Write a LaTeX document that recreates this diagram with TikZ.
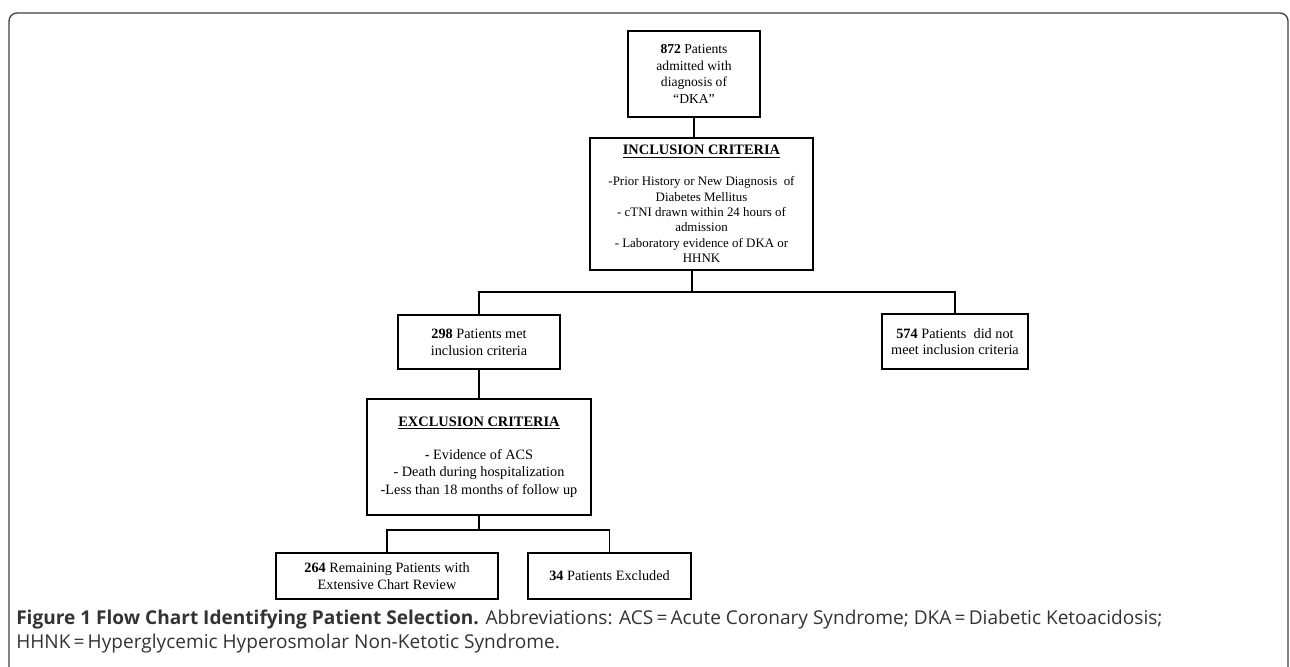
\documentclass[tikz,border=0pt]{standalone}
\usepackage{fontspec}
\setmainfont{Liberation Serif}
\newfontfamily\capfont{Open Sans}
\usetikzlibrary{positioning}
\newcommand{\critlabel}[1]{{\fontsize{10.8}{12}\selectfont\bfseries\underline{#1}}}

\begin{document}
\begin{tikzpicture}[x=0.75pt, y=-0.75pt,
  box/.style={draw, line width=2pt, align=center, inner sep=2pt, font=\fontsize{10.7}{12.5}\selectfont},
  link/.style={line width=1.4pt},
  caption/.style={anchor=base west, inner sep=0pt, text=black!80, font=\capfont\fontsize{14.3}{16}\selectfont}]
\useasboundingbox (0,0) rectangle (1290,667);
% outer frame, open at the bottom
\draw[black!75, line width=1pt, rounded corners=6pt] (9,690) -- (9,13) -- (1288,13) -- (1288,690);

\node[box, font=\fontsize{10.2}{12.5}\selectfont, minimum width=99pt, minimum height=64.5pt] (admitted) at (694,74) {\textbf{872} Patients\\admitted with\\diagnosis of\\``DKA''};
\node[box, font=\fontsize{9.7}{11.5}\selectfont, minimum width=167.25pt, minimum height=99pt] (inclusion) at (701.5,204) {\critlabel{INCLUSION CRITERIA}\\[11.75pt]-Prior History or New Diagnosis\ \ of\\Diabetes Mellitus\\- cTNI drawn within 24 hours of\\admission\\- Laboratory evidence of DKA or\\HHNK};

\node[box, minimum width=121.5pt, minimum height=40.5pt] (met) at (479,342) {\textbf{298} Patients met\\inclusion criteria};
\node[box, minimum width=109.5pt, minimum height=41.25pt] (notmet) at (955,341.5) {\textbf{574} Patients\ \ did not\\meet inclusion criteria};

\node[box, font=\fontsize{10.7}{13}\selectfont, minimum width=168pt, minimum height=87pt] (exclusion) at (479,457) {\critlabel{EXCLUSION CRITERIA}\\[11.75pt]- Evidence of ACS\\- Death during hospitalization\\-Less than 18 months of follow up};

\node[box, minimum width=166.5pt, minimum height=34.5pt] (remaining) at (387,576) {\textbf{264} Remaining Patients with\\Extensive Chart Review};
\node[box, minimum width=122.25pt, minimum height=34.5pt] (excluded) at (609.5,576) {\textbf{34} Patients Excluded};

\coordinate (split1) at (692,292);
\coordinate (split2) at (479,530);

\draw[link] (admitted) -- (admitted |- inclusion.north);
\draw[link] (inclusion.south -| split1) -- (split1);
\draw[link] (split1) -| (met.north);
\draw[link] (split1) -| (notmet.north);
\draw[link] (met) -- (exclusion);
\draw[link] (exclusion.south) -- (split2);
\draw[link] (split2) -| (remaining.north);
\draw[link] (split2) -| (excluded.north);

\node[caption] (caption1) at (16,624) {\textbf{Figure 1 Flow Chart Identifying Patient Selection.} Abbreviations: ACS\,=\,Acute Coronary Syndrome; DKA\,=\,Diabetic Ketoacidosis;};
\node[caption] (caption2) at (16,648) {HHNK\,=\,Hyperglycemic Hyperosmolar Non-Ketotic Syndrome.};
\end{tikzpicture}
\end{document}
